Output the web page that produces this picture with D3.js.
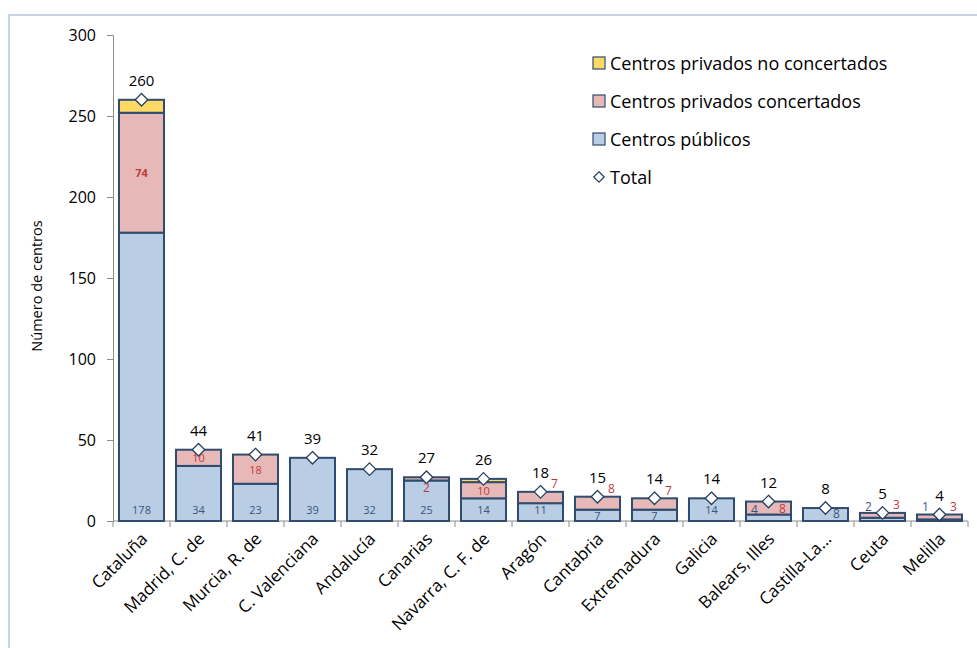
<!DOCTYPE html>
<html>
<head>
<meta charset="utf-8">
<script src="https://cdn.jsdelivr.net/npm/d3@7"></script>
<style>
  html, body { margin: 0; padding: 0; background: #fff; }
  svg { display: block; font-family: "Open Sans", "DejaVu Sans", sans-serif; }
</style>
</head>
<body>
<svg id="chart" width="977" height="648"></svg>
<script>
// Centros por comunidad autónoma, según titularidad
const regions = ["Cataluña", "Madrid, C. de", "Murcia, R. de", "C. Valenciana", "Andalucía",
  "Canarias", "Navarra, C. F. de", "Aragón", "Cantabria", "Extremadura", "Galicia",
  "Balears, Illes", "Castilla-La...", "Ceuta", "Melilla"];
const publicos      = [178, 34, 23, 39, 32, 25, 14, 11, 7, 7, 14, 4, 8, 2, 1];
const concertados   = [74, 10, 18, 0, 0, 2, 10, 7, 8, 7, 0, 8, 0, 3, 3];
const noConcertados = [8, 0, 0, 0, 0, 0, 2, 0, 0, 0, 0, 0, 0, 0, 0];
const totals        = [260, 44, 41, 39, 32, 27, 26, 18, 15, 14, 14, 12, 8, 5, 4];
const yTicks        = [0, 50, 100, 150, 200, 250, 300];
const seriesNames   = ["Centros privados no concertados", "Centros privados concertados", "Centros públicos", "Total"];

const colors = { pub: "#B9CDE5", conc: "#E6B9B8", noconc: "#FFD966", stroke: "#2F4B6E" };

const svg = d3.select("#chart");

// outer chart frame
svg.append("rect").attr("x", 9).attr("y", 15).attr("width", 1000).attr("height", 700)
  .attr("fill", "none").attr("stroke", "#C8D3E8").attr("stroke-width", 2);

const m = { left: 113, right: 968, top: 35, bottom: 521 };
const x = d3.scaleBand().domain(regions).range([m.left, m.right]).paddingInner(0.21).paddingOuter(0.105);
const y = d3.scaleLinear().domain([0, 300]).range([m.bottom, m.top]);

// axes
const yAxis = d3.axisLeft(y).tickValues(yTicks).tickSize(6).tickPadding(11);
const gy = svg.append("g").attr("transform", `translate(${m.left},0)`).call(yAxis);
gy.select(".domain").attr("stroke", "#8C8C8C");
gy.selectAll(".tick line").attr("stroke", "#8C8C8C");
gy.selectAll(".tick text").attr("font-size", 16).attr("fill", "#000").attr("font-family", "Open Sans");

const step = x.step();
const boundaries = d3.range(regions.length + 1).map(i => m.left + i * step);
const gx = svg.append("g");
gx.append("line").attr("x1", m.left).attr("x2", m.right).attr("y1", m.bottom).attr("y2", m.bottom)
  .attr("stroke", "#8C8C8C");
gx.selectAll("line.tk").data(boundaries).join("line").attr("class", "tk")
  .attr("x1", d => d).attr("x2", d => d).attr("y1", m.bottom).attr("y2", m.bottom + 6)
  .attr("stroke", "#8C8C8C");
gx.selectAll("text").data(regions).join("text")
  .attr("transform", d => `translate(${x(d) + x.bandwidth() / 2 + 7},${m.bottom + 19}) rotate(-45)`)
  .attr("text-anchor", "end").attr("font-size", 17).attr("fill", "#000")
  .text(d => d);

// y title
svg.append("text").attr("transform", `translate(42,${(m.top + m.bottom) / 2 + 8}) rotate(-90)`)
  .attr("text-anchor", "middle").attr("font-size", 14.5).attr("fill", "#000").text("Número de centros");

// stacked bars
const rows = regions.map((r, i) => ({ r, pub: publicos[i], conc: concertados[i], noconc: noConcertados[i], total: totals[i] }));
const stack = d3.stack().keys(["pub", "conc", "noconc"])(rows);
const fillFor = { pub: colors.pub, conc: colors.conc, noconc: colors.noconc };

svg.append("g").selectAll("g").data(stack).join("g")
  .attr("fill", d => fillFor[d.key])
  .selectAll("rect").data(d => d.filter(s => s[1] > s[0])).join("rect")
  .attr("x", d => x(d.data.r)).attr("width", x.bandwidth())
  .attr("y", d => y(d[1])).attr("height", d => y(d[0]) - y(d[1]))
  .attr("stroke", colors.stroke).attr("stroke-width", 2);

// total markers
const diamond = d3.symbol().type(d3.symbolDiamond2).size(100);
svg.append("g").selectAll("path").data(rows).join("path")
  .attr("d", diamond)
  .attr("transform", d => `translate(${x(d.r) + x.bandwidth() / 2},${y(d.total)})`)
  .attr("fill", "#fff").attr("stroke", "#243F60").attr("stroke-width", 1.3);

// segment value labels
const lab = svg.append("g").attr("text-anchor", "middle").attr("dominant-baseline", "central");
rows.forEach(d => {
  const cx = x(d.r) + x.bandwidth() / 2;
  const nearBase = y(d.total) > m.bottom - 22;
  const pubH = y(0) - y(d.pub);
  // public
  let px = cx, py = pubH < 15 ? y(0) - 6 : y(0) - 12, pfs = 11;
  if (nearBase) {
    pfs = 12;
    if (d.conc > 0) { px = cx - 14; py = d.pub > 2 ? y(0) - 12 : y(0) - 15; }
    else { px = cx + 11; py = y(0) - 8; }
  }
  lab.append("text").attr("x", px).attr("y", py).attr("fill", "#3B557A")
    .attr("font-size", pfs).text(d.pub);
  // concertados
  if (d.conc > 0) {
    const segH = y(d.pub) - y(d.pub + d.conc);
    const mid = (y(d.pub) + y(d.pub + d.conc)) / 2;
    let tx = cx, ty = mid, fs = 11;
    if (segH < 5 && !nearBase) { ty = y(d.pub + d.conc) + 10; fs = 12; }
    else if (segH < 14) {
      tx = cx + 14; fs = 12;
      ty = (nearBase && d.pub > 2) ? mid : y(d.total) - 8;
    }
    lab.append("text").attr("x", tx).attr("y", ty).attr("fill", "#C0393B")
      .attr("font-size", fs).attr("font-weight", segH > 100 ? 700 : 400).text(d.conc);
  }
});

// total labels
svg.append("g").selectAll("text").data(rows).join("text")
  .attr("x", d => x(d.r) + x.bandwidth() / 2).attr("y", d => y(d.total) - 20)
  .attr("dominant-baseline", "central")
  .attr("text-anchor", "middle").attr("font-size", 15).attr("fill", "#000")
  .text(d => d.total);

// legend
const leg = svg.append("g").attr("transform", "translate(593,63)");
const legFills = [colors.noconc, colors.conc, colors.pub];
seriesNames.forEach((name, i) => {
  const g = leg.append("g").attr("transform", `translate(0,${i * 38})`);
  if (i < 3) {
    g.append("rect").attr("x", 0).attr("y", -6).attr("width", 12).attr("height", 12)
      .attr("fill", legFills[i]).attr("stroke", colors.stroke).attr("stroke-width", 1.2);
  } else {
    g.append("path").attr("d", d3.symbol().type(d3.symbolDiamond2).size(70))
      .attr("transform", "translate(6,0)").attr("fill", "#fff").attr("stroke", "#243F60").attr("stroke-width", 1.2);
  }
  g.append("text").attr("x", 17).attr("y", 0).attr("dominant-baseline", "central")
    .attr("font-size", 18).attr("fill", "#000").text(name);
});
</script>
</body>
</html>
